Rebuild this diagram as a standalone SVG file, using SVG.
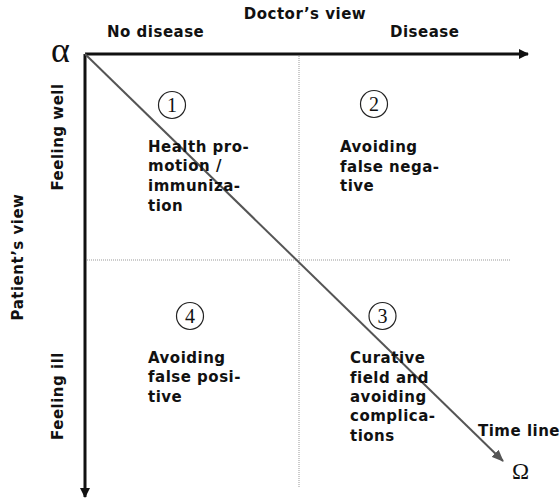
<svg xmlns="http://www.w3.org/2000/svg" width="560" height="499" viewBox="0 0 560 499">
<style>
.t{font-family:"DejaVu Sans",Verdana,sans-serif;font-weight:bold;font-size:15px;fill:#111;letter-spacing:0.5px}
.g{font-family:"Liberation Serif","DejaVu Serif",serif;fill:#111}
.num{font-family:"Liberation Serif",serif;font-size:20px;fill:#111;text-anchor:middle}
.c{fill:none;stroke:#222;stroke-width:1.2}
</style>
<defs>
<marker id="ah" markerWidth="10" markerHeight="10" refX="9" refY="5" orient="auto" markerUnits="userSpaceOnUse"><path d="M0,0 L10,5 L0,10 z" fill="#111"/></marker>
<marker id="ahg" markerWidth="12" markerHeight="10" refX="11" refY="5" orient="auto" markerUnits="userSpaceOnUse"><path d="M0,0 L12,5 L0,10 z" fill="#555"/></marker>
</defs>
<rect width="560" height="499" fill="#fff"/>
<g id="connectors">
<line x1="299" y1="56" x2="299" y2="488" stroke="#999" stroke-width="1" stroke-dasharray="1,1"/>
<line x1="87" y1="260" x2="510" y2="260" stroke="#999" stroke-width="1" stroke-dasharray="1,1"/>
<line x1="85" y1="54" x2="528" y2="54" stroke="#111" stroke-width="3" marker-end="url(#ah)"/>
<line x1="85" y1="54" x2="85" y2="497" stroke="#111" stroke-width="3" marker-end="url(#ah)"/>
<line x1="85" y1="54" x2="503" y2="461" stroke="#555" stroke-width="2" marker-end="url(#ahg)"/>
</g>
<g id="axis-labels">
<text class="t" x="305" y="19" text-anchor="middle">Doctor’s view</text>
<text class="t" x="107" y="37">No disease</text>
<text class="t" x="390" y="37">Disease</text>
<text class="g" x="51" y="62" font-size="36">α</text>
<text class="g" x="512" y="479" font-size="23">Ω</text>
<text class="t" x="478" y="436">Time line</text>
<text class="t" transform="translate(63,137) rotate(-90)" text-anchor="middle">Feeling well</text>
<text class="t" transform="translate(23,257) rotate(-90)" text-anchor="middle">Patient’s view</text>
<text class="t" transform="translate(63,396) rotate(-90)" text-anchor="middle">Feeling ill</text>
</g>
<g id="q1">
<circle class="c" cx="172" cy="105" r="13.5"/><text class="num" x="172" y="112">1</text>
<text class="t" x="148" y="152">Health pro-</text>
<text class="t" x="148" y="171">motion /</text>
<text class="t" x="148" y="191">immuniza-</text>
<text class="t" x="148" y="211">tion</text>
</g>
<g id="q2">
<circle class="c" cx="374" cy="104" r="13.5"/><text class="num" x="374" y="111">2</text>
<text class="t" x="340" y="152">Avoiding</text>
<text class="t" x="340" y="172">false nega-</text>
<text class="t" x="340" y="191">tive</text>
</g>
<g id="q3">
<circle class="c" cx="382.5" cy="316" r="13.5"/><text class="num" x="382.5" y="323">3</text>
<text class="t" x="350" y="363">Curative</text>
<text class="t" x="350" y="383">field and</text>
<text class="t" x="350" y="402">avoiding</text>
<text class="t" x="350" y="421">complica-</text>
<text class="t" x="350" y="441">tions</text>
</g>
<g id="q4">
<circle class="c" cx="190" cy="316" r="13.5"/><text class="num" x="190" y="323">4</text>
<text class="t" x="148" y="363">Avoiding</text>
<text class="t" x="148" y="382">false posi-</text>
<text class="t" x="148" y="402">tive</text>
</g>
</svg>
